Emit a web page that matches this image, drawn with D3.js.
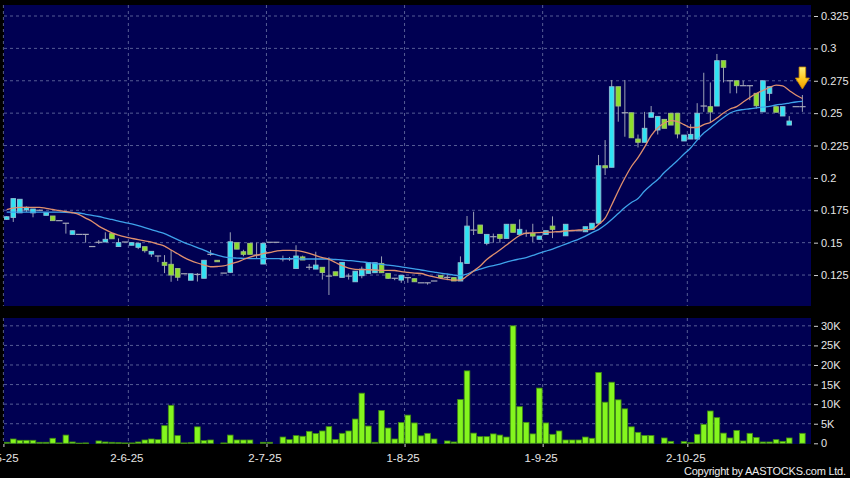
<!DOCTYPE html>
<html><head><meta charset="utf-8">
<script src="https://cdn.jsdelivr.net/npm/d3@7/dist/d3.min.js"></script>
<style>body{margin:0;background:#000;overflow:hidden}svg{display:block}</style>
</head><body>
<svg id="chart" width="850" height="478"></svg>
<script>
// ---------------- data ----------------
const opens = [0.168,0.1695,0.173,0.1752,0.173,0.175,0.1711,0.1706,0.167,0.165,
0.1564,0.1564,0.1564,0.147,0.1503,0.1505,0.157,0.147,0.1505,0.148,
0.1464,0.1469,0.1412,0.1397,0.1348,0.1333,0.130,0.126,0.121,0.1255,
0.1225,0.141,0.1364,0.1265,0.1271,0.150,0.143,0.1495,0.1404,0.1335,
0.1503,0.1503,0.1374,0.1374,0.130,0.139,0.131,0.1296,0.131,0.1242,
0.1275,0.1232,0.1242,0.1198,0.1245,0.1263,0.1268,0.134,0.1263,0.1225,
0.1211,0.123,0.1222,0.119,0.119,0.1204,0.1248,0.1232,0.123,0.1204,
0.134,0.1597,0.1636,0.1495,0.1546,0.1564,0.1533,0.1642,0.1564,0.1572,
0.1572,0.1526,0.1564,0.1628,0.1584,0.1553,0.1592,0.1592,0.1584,0.1603,
0.165,0.2094,0.2082,0.2704,0.2503,0.2503,0.230,0.2275,0.2468,0.237,
0.2452,0.2499,0.2499,0.2285,0.230,0.230,0.2555,0.255,0.2555,0.2905,
0.275,0.275,0.2712,0.2712,0.2653,0.251,0.2653,0.255,0.2478,0.2408,
0.255,0.255];
const highs = [0.1705,0.184,0.1835,0.178,0.176,0.1755,0.1731,0.1706,0.167,0.165,
0.1592,0.1564,0.1564,0.147,0.152,0.158,0.157,0.1533,0.1505,0.150,
0.1495,0.1469,0.1433,0.1397,0.1404,0.1443,0.130,0.126,0.126,0.1265,
0.1364,0.1443,0.1364,0.1265,0.158,0.150,0.1445,0.1495,0.150,0.1495,
0.1503,0.1503,0.140,0.139,0.148,0.140,0.1335,0.143,0.131,0.1387,
0.1275,0.1348,0.1262,0.128,0.1315,0.1345,0.1345,0.1394,0.1263,0.1225,
0.1248,0.123,0.1222,0.119,0.119,0.1204,0.1248,0.1255,0.123,0.1394,
0.1706,0.1739,0.1636,0.1564,0.157,0.1564,0.1642,0.1642,0.168,0.160,
0.1646,0.1551,0.1592,0.1703,0.1584,0.1642,0.1592,0.1592,0.1623,0.165,
0.2177,0.2292,0.2756,0.2704,0.2756,0.2503,0.2335,0.251,0.2555,0.2475,
0.2452,0.2499,0.2499,0.2331,0.2415,0.2577,0.2812,0.2737,0.2957,0.2905,
0.275,0.275,0.275,0.2712,0.2653,0.275,0.2704,0.255,0.255,0.2477,
0.255,0.264];
const lows = [0.1675,0.166,0.173,0.1737,0.1696,0.1745,0.1711,0.167,0.167,0.157,
0.1564,0.1564,0.150,0.147,0.149,0.1505,0.153,0.147,0.1505,0.148,
0.145,0.1423,0.139,0.135,0.1265,0.1198,0.1205,0.126,0.121,0.120,
0.1225,0.1399,0.1353,0.1265,0.1265,0.145,0.1395,0.141,0.138,0.1335,
0.1503,0.1503,0.1355,0.136,0.130,0.1366,0.129,0.1296,0.1215,0.1096,
0.1245,0.1232,0.1215,0.1198,0.1225,0.1263,0.1268,0.1268,0.122,0.121,
0.119,0.119,0.1198,0.119,0.1176,0.1204,0.1232,0.121,0.1204,0.1204,
0.134,0.1559,0.1572,0.148,0.150,0.150,0.1533,0.158,0.1564,0.1545,
0.1505,0.1526,0.1564,0.1535,0.1584,0.1553,0.1592,0.1592,0.1584,0.1603,
0.165,0.2022,0.2082,0.2434,0.2318,0.231,0.2235,0.2275,0.2468,0.2335,
0.2383,0.2408,0.2305,0.2285,0.230,0.230,0.251,0.2425,0.2555,0.2737,
0.2653,0.2653,0.2712,0.260,0.2535,0.251,0.2595,0.2507,0.2478,0.2408,
0.255,0.251];
const closes = [0.170,0.184,0.1835,0.1773,0.176,0.175,0.1731,0.167,0.167,0.165,
0.1592,0.1564,0.1564,0.147,0.1503,0.1526,0.153,0.150,0.1505,0.150,
0.1495,0.1438,0.1433,0.1397,0.1325,0.125,0.1233,0.126,0.126,0.1255,
0.1364,0.141,0.1353,0.1265,0.1507,0.145,0.141,0.141,0.1404,0.1495,
0.1503,0.1503,0.1374,0.1374,0.1397,0.1366,0.131,0.1327,0.127,0.1242,
0.1245,0.1348,0.1242,0.128,0.1296,0.1345,0.1345,0.1268,0.1225,0.1225,
0.1248,0.123,0.1198,0.119,0.119,0.1204,0.1232,0.1232,0.1204,0.1345,
0.1628,0.1597,0.1572,0.1564,0.1546,0.1533,0.1642,0.158,0.1603,0.1572,
0.1551,0.1551,0.1592,0.1603,0.1584,0.1642,0.1592,0.1592,0.1623,0.165,
0.2094,0.2078,0.2704,0.2555,0.2503,0.231,0.2275,0.2383,0.2503,0.2475,
0.2383,0.2408,0.2339,0.2331,0.2336,0.2499,0.2555,0.2509,0.2905,0.2854,
0.275,0.2712,0.2712,0.2712,0.2557,0.275,0.2704,0.2507,0.255,0.2439,
0.255,0.255];
const volumes = [260,1100,770,770,770,260,260,1280,100,2100,
340,50,100,0,600,340,260,170,100,100,
340,850,1100,940,4500,9700,1960,100,170,4200,
680,850,0,100,2100,850,850,850,0,260,
260,0,1600,940,1960,1800,3060,2500,3150,4250,
1000,2550,3150,6200,12800,4400,260,8400,3900,1100,
5300,7200,5200,1900,2550,1100,0,600,340,11200,
18500,2600,1700,1700,2400,2100,1600,30000,9350,5350,
2400,14100,5200,2300,3150,850,850,850,1600,1280,
18100,10500,15600,11100,8800,4200,2800,2000,2000,0,
1360,500,0,430,170,2300,4850,8250,6550,2600,
1360,3300,600,2550,1500,340,340,940,500,1360,
0,2550];
const maShort = [0.1756,0.1767,0.1773,0.1773,0.1773,0.1773,0.1764,0.1756,0.1748,0.1740,
0.1731,0.1717,0.1690,0.1663,0.1628,0.1601,0.1576,0.1559,0.1545,0.1534,
0.1523,0.1513,0.1505,0.1489,0.1474,0.1443,0.1414,0.1385,0.1362,0.1343,
0.1327,0.1314,0.1316,0.1320,0.1335,0.1350,0.1370,0.1389,0.1404,0.1416,
0.1424,0.1435,0.1441,0.1441,0.1439,0.1431,0.1418,0.1401,0.1385,0.1371,
0.1347,0.1323,0.1304,0.1294,0.1292,0.1291,0.1289,0.1286,0.1286,0.1285,
0.1277,0.1271,0.1265,0.1262,0.1248,0.1236,0.1225,0.1217,0.1211,0.1211,
0.1242,0.1281,0.1320,0.1370,0.1408,0.1443,0.1482,0.1520,0.1555,0.1574,
0.1576,0.1578,0.1580,0.1582,0.1586,0.1590,0.1594,0.1598,0.1600,0.1603,
0.1640,0.1690,0.1791,0.1899,0.1999,0.2088,0.2157,0.2238,0.2327,0.2385,
0.2424,0.2443,0.2435,0.2412,0.2389,0.2389,0.2412,0.2428,0.2462,0.2501,
0.2532,0.2550,0.2586,0.2621,0.2652,0.2675,0.2698,0.2717,0.2710,0.2675,
0.2640,0.2613];
const maLong = [0.1736,0.1736,0.1736,0.1736,0.1736,0.1736,0.1736,0.1736,0.1736,0.1735,
0.1733,0.1729,0.1719,0.1711,0.1702,0.1690,0.1679,0.1667,0.1655,0.1645,
0.1632,0.1617,0.1601,0.1586,0.1570,0.1547,0.1524,0.1501,0.1482,0.1462,
0.1443,0.1420,0.1404,0.1391,0.1384,0.1381,0.1379,0.1377,0.1377,0.1377,
0.1377,0.1377,0.1377,0.1377,0.1377,0.1374,0.1374,0.1374,0.1374,0.1374,
0.1370,0.1366,0.1362,0.1358,0.1352,0.1346,0.1340,0.1333,0.1327,0.1321,
0.1313,0.1306,0.1298,0.1289,0.1281,0.1273,0.1265,0.1258,0.1250,0.1246,
0.1258,0.1281,0.1296,0.1312,0.1323,0.1335,0.1350,0.1364,0.1374,0.1385,
0.1401,0.1420,0.1435,0.1451,0.1470,0.1489,0.1509,0.1528,0.1551,0.1578,
0.1601,0.1636,0.1679,0.1725,0.1771,0.1810,0.1841,0.1899,0.1945,0.1987,
0.2042,0.2088,0.2134,0.2184,0.2231,0.2292,0.2346,0.2385,0.2428,0.2466,
0.2501,0.2520,0.2528,0.2534,0.2541,0.2547,0.2553,0.2563,0.2570,0.2578,
0.2586,0.2591];
const dateLabels = ["2-5-25","2-6-25","2-7-25","1-8-25","1-9-25","2-10-25"];
const dateIndex  = [0,19,40,61,82,104];
const priceTicks = [0.125,0.15,0.175,0.2,0.225,0.25,0.275,0.3,0.325];
const volumeTicks = [0,5000,10000,15000,20000,25000,30000];
const volumeTickLabels = ["0","5K","10K","15K","20K","25K","30K"];
const copyright = "Copyright by AASTOCKS.com Ltd.";

// ---------------- layout ----------------
const FONT = "'Liberation Sans', Arial, sans-serif";
const P = {left:4, right:811, top:5, bottom:306};
const V = {top:318, bottom:444};
const svg = d3.select("#chart");
svg.append("rect").attr("width",850).attr("height",478).attr("fill","#000");

const n = closes.length;
const x = d3.scaleLinear().domain([0, n-1]).range([6.7, 802.4]);
const y = d3.scaleLinear().domain([0.1011, 0.3335]).range([P.bottom, P.top]);
const yv = d3.scaleLinear().domain([0, 32000]).range([443.3, V.top]);

const defs = svg.append("defs");
defs.append("clipPath").attr("id","clipP").append("rect")
  .attr("x",P.left).attr("y",P.top).attr("width",P.right-P.left).attr("height",P.bottom-P.top);
defs.append("clipPath").attr("id","clipV").append("rect")
  .attr("x",P.left).attr("y",V.top).attr("width",P.right-P.left).attr("height",V.bottom-V.top);
const grad = defs.append("linearGradient").attr("id","arrowGrad").attr("x1",0).attr("y1",0).attr("x2",0).attr("y2",1);
grad.append("stop").attr("offset","0%").attr("stop-color","#fff07a");
grad.append("stop").attr("offset","55%").attr("stop-color","#ffc81e");
grad.append("stop").attr("offset","100%").attr("stop-color","#f09a00");

const BG = "#000052";
svg.append("rect").attr("x",P.left).attr("y",P.top).attr("width",P.right-P.left).attr("height",P.bottom-P.top).attr("fill",BG);
svg.append("rect").attr("x",P.left).attr("y",V.top).attr("width",P.right-P.left).attr("height",V.bottom-V.top).attr("fill",BG);

const GRID = "#6b73a6";
const gridX = d => x(d - 0.5);
// horizontal grids
svg.append("g").selectAll("line").data(priceTicks).join("line")
  .attr("x1",P.left).attr("x2",P.right).attr("y1",d=>y(d)).attr("y2",d=>y(d))
  .attr("stroke",GRID).attr("stroke-width",0.8).attr("stroke-dasharray","3,3");
svg.append("g").selectAll("line").data(volumeTicks.slice(1)).join("line")
  .attr("x1",P.left).attr("x2",P.right).attr("y1",d=>yv(d)).attr("y2",d=>yv(d))
  .attr("stroke",GRID).attr("stroke-width",0.8).attr("stroke-dasharray","3,3");
// vertical grids
[[P.top,P.bottom],[V.top,V.bottom]].forEach(([t,b])=>{
  svg.append("g").selectAll("line").data(dateIndex).join("line")
    .attr("x1",gridX).attr("x2",gridX).attr("y1",t).attr("y2",b)
    .attr("stroke",GRID).attr("stroke-width",0.8).attr("stroke-dasharray","3,3");
});

// ---------------- candles ----------------
const idx = d3.range(n);
const gC = svg.append("g").attr("clip-path","url(#clipP)");
const UP = "#2fe3f3", UPS = "#8fc0d4", DN = "#8ede2c", DNS = "#9fbf80", FLAT = "#a6a8b8", WICK = "#9aa0b4";
gC.selectAll("line.wick").data(idx).join("line").attr("class","wick")
  .attr("x1",i=>x(i)).attr("x2",i=>x(i)).attr("y1",i=>y(highs[i])).attr("y2",i=>y(lows[i]))
  .attr("stroke",WICK).attr("stroke-width",1);
gC.selectAll("line.flat").data(idx.filter(i=>opens[i]===closes[i])).join("line").attr("class","flat")
  .attr("x1",i=>x(i)-3.2).attr("x2",i=>x(i)+3.2).attr("y1",i=>y(closes[i])).attr("y2",i=>y(closes[i]))
  .attr("stroke",FLAT).attr("stroke-width",1.2);
gC.selectAll("rect.body").data(idx.filter(i=>opens[i]!==closes[i])).join("rect").attr("class","body")
  .attr("x",i=>x(i)-2.3).attr("width",4.6)
  .attr("y",i=>y(Math.max(opens[i],closes[i])))
  .attr("height",i=>Math.max(1.5, Math.abs(y(opens[i])-y(closes[i]))))
  .attr("fill",i=>closes[i]>opens[i]?UP:DN)
  .attr("stroke",i=>closes[i]>opens[i]?UPS:DNS).attr("stroke-width",0.9);

// moving averages
const line = arr => d3.line().x((d,i)=>x(i)).y(d=>y(d)).curve(d3.curveMonotoneX)(arr);
gC.append("path").attr("d",line(maLong)).attr("fill","none").attr("stroke","#3ea2ea").attr("stroke-width",1.3);
gC.append("path").attr("d",line(maShort)).attr("fill","none").attr("stroke","#e0906e").attr("stroke-width",1.3);

// arrow marker above last candle
const ax = x(n-1), aTip = y(highs[n-1]) - 6;
gC.append("path")
  .attr("d",`M${ax-3.3},${aTip-22} L${ax+3.3},${aTip-22} L${ax+3.3},${aTip-11} L${ax+7},${aTip-11} L${ax},${aTip} L${ax-7},${aTip-11} L${ax-3.3},${aTip-11} Z`)
  .attr("fill","url(#arrowGrad)").attr("stroke","#c88a00").attr("stroke-width",0.8);

// ---------------- volume ----------------
const gV = svg.append("g").attr("clip-path","url(#clipV)");
gV.selectAll("rect").data(idx.filter(i=>volumes[i]>0)).join("rect")
  .attr("x",i=>x(i)-2.8).attr("width",5.6)
  .attr("y",i=>yv(volumes[i])).attr("height",i=>Math.max(0.8, yv(0)-yv(volumes[i])))
  .attr("fill","#84f51e").attr("stroke","#3f8a12").attr("stroke-width",0.8);

// ---------------- axes ----------------
const styleAxis = g => {
  g.select(".domain").remove();
  g.selectAll(".tick line").attr("stroke","#d0d0d0");
  g.selectAll(".tick text").attr("fill","#e6e6e6").style("font-family",FONT).style("font-size","11px");
};
svg.append("g").attr("transform",`translate(${P.right+3},0)`)
  .call(d3.axisRight(y).tickValues(priceTicks).tickSize(4).tickPadding(3).tickFormat(d=>String(d)))
  .call(styleAxis);
svg.append("g").attr("transform",`translate(${P.right+3},0)`)
  .call(d3.axisRight(yv).tickValues(volumeTicks).tickSize(4).tickPadding(3).tickFormat((d,i)=>volumeTickLabels[i]))
  .call(styleAxis);
const xAxisScale = d3.scaleLinear().domain(x.domain()).range(x.range());
svg.append("g").attr("transform",`translate(0,${V.bottom})`)
  .call(d3.axisBottom(xAxisScale).tickValues(dateIndex.map(d=>d-0.5)).tickSize(3).tickPadding(7)
        .tickFormat((d,i)=>dateLabels[i]))
  .call(styleAxis)
  .call(g=>g.selectAll(".tick text").attr("dx",-2).style("font-size","11.5px"));

svg.append("text").attr("x",846).attr("y",475).attr("text-anchor","end")
  .attr("fill","#ececec").style("font-family",FONT).style("font-size","11px")
  .attr("textLength",162).attr("lengthAdjust","spacing").text(copyright);
</script>
</body></html>
